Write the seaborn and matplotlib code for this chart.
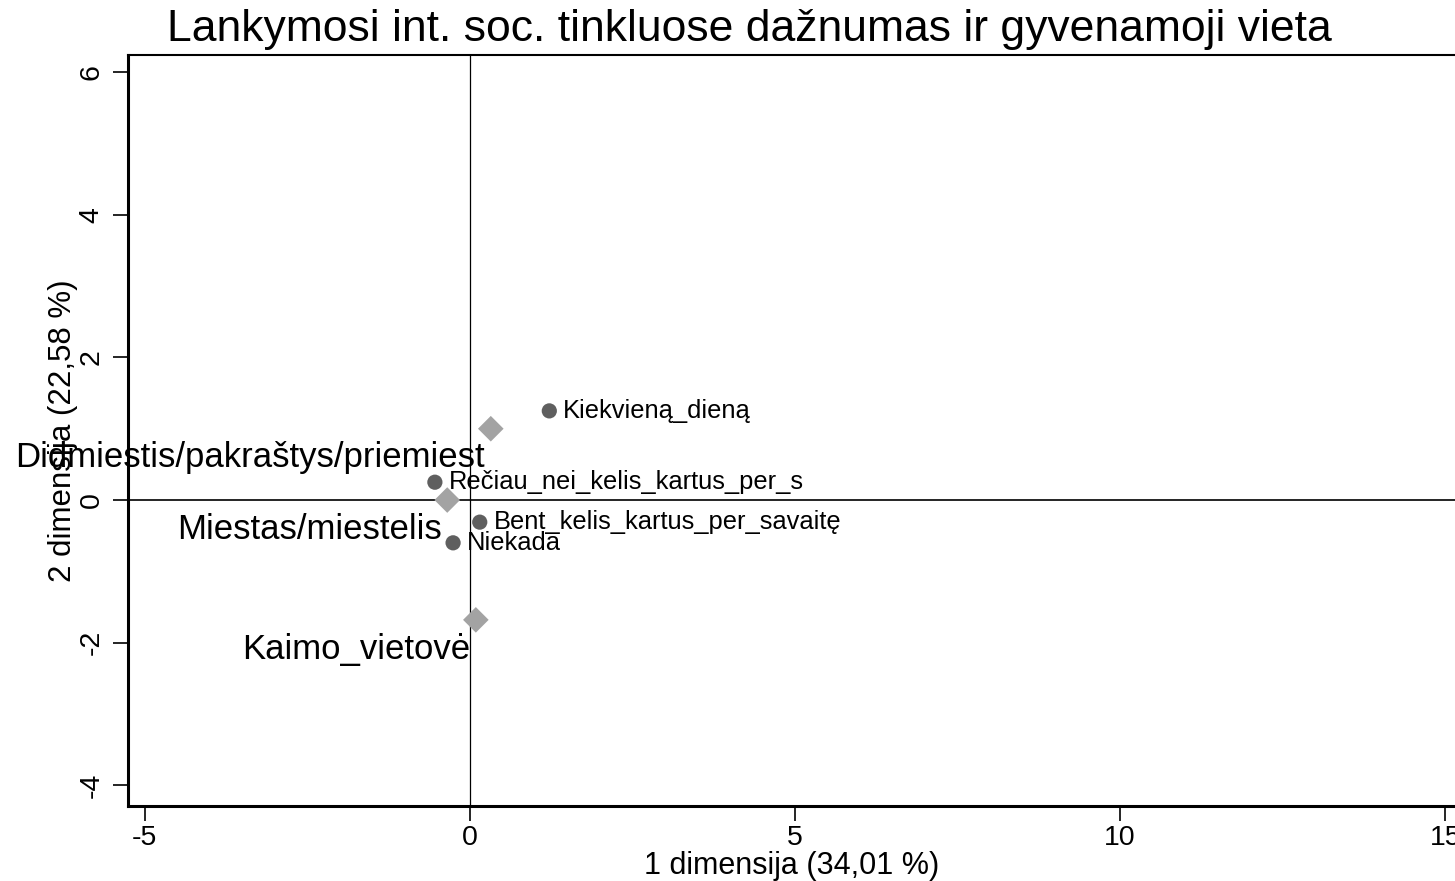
import numpy as np
import pandas as pd
import matplotlib
matplotlib.use('Agg')
import matplotlib.pyplot as plt
import seaborn as sns

sns.set_style('white')
plt.rcParams['font.family'] = ['Liberation Sans', 'DejaVu Sans']
plt.rcParams['axes.unicode_minus'] = False
plt.rcParams['text.color'] = 'black'
plt.rcParams['axes.labelcolor'] = 'black'
plt.rcParams['xtick.color'] = 'black'
plt.rcParams['ytick.color'] = 'black'

# row categories (dažnumas)
row_names = ['Kiekvieną_dieną', 'Rečiau_nei_kelis_kartus_per_s',
             'Bent_kelis_kartus_per_savaitę', 'Niekada']
row_x = [1.22, -0.54, 0.15, -0.26]
row_y = [1.25, 0.25, -0.31, -0.60]

# column categories (gyvenamoji vieta)
col_names = ['Didmiestis/pakraštys/priemiest', 'Miestas/miestelis', 'Kaimo_vietovė']
col_x = [0.32, -0.35, 0.09]
col_y = [1.00, 0.00, -1.68]

rows = pd.DataFrame({'dim1': row_x, 'dim2': row_y, 'label': row_names})
cols = pd.DataFrame({'dim1': col_x, 'dim2': col_y, 'label': col_names})

fig = plt.figure(figsize=(14.55, 8.81), dpi=100)
ax = fig.add_axes([128 / 1455, 1 - 806 / 881, 1 - 128 / 1455, (806 - 55) / 881])

ax.axhline(0, color='black', lw=1.2, zorder=1)
ax.axvline(0, color='black', lw=0.9, zorder=1)

sns.scatterplot(data=rows, x='dim1', y='dim2', ax=ax, color='#5f5f5f',
                marker='o', s=120, edgecolor='none', zorder=3)
sns.scatterplot(data=cols, x='dim1', y='dim2', ax=ax, color='#a3a3a3',
                marker='D', s=170, edgecolor='none', zorder=3)

for _, r in rows.iterrows():
    ax.annotate(r['label'], (r['dim1'], r['dim2']), xytext=(10, 0),
                textcoords='offset points', va='center', ha='left',
                fontsize=18.4, color='black')
for _, r in cols.iterrows():
    ax.annotate(r['label'], (r['dim1'], r['dim2']), xytext=(-4, -21),
                textcoords='offset points', va='center', ha='right',
                fontsize=25, color='black')

ax.set_xlim(-5.26, 15.15)
ax.set_ylim(-4.29, 6.24)
ax.set_xticks([-5, 0, 5, 10, 15])
ax.set_yticks([-4, -2, 0, 2, 4, 6])
ax.set_yticklabels(['-4', '-2', '0', '2', '4', '6'], rotation=90, va='center')
ax.tick_params(axis='both', direction='out', length=11, width=1.2,
               labelsize=20.5, color='black', left=True, bottom=True)
ax.tick_params(axis='y', pad=6)
ax.tick_params(axis='x', pad=3)

for side in ['left', 'bottom']:
    ax.spines[side].set_linewidth(2.2)
    ax.spines[side].set_color('black')
ax.spines['top'].set_linewidth(1.5)
ax.spines['top'].set_color('black')
ax.spines['right'].set_visible(False)

ax.set_xlabel('1 dimensija (34,01 %)', fontsize=22, labelpad=0)
ax.set_ylabel('2 dimensija (22,58 %)', fontsize=22.5, labelpad=0)

fig.text(749 / 1455, 1 - 29 / 881, 'Lankymosi int. soc. tinkluose dažnumas ir gyvenamoji vieta',
         ha='center', va='center', fontsize=32)

fig.savefig('out.png', dpi=100)
